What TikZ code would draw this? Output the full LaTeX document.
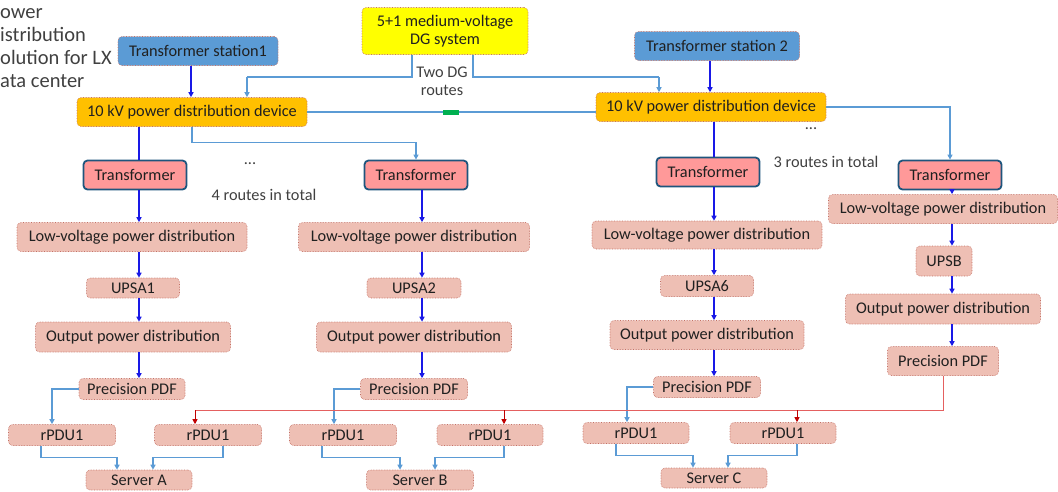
\documentclass[tikz,border=0pt]{standalone}
\usepackage{fontspec}
\setmainfont{Carlito}
\usetikzlibrary{arrows.meta}

\definecolor{stationblue}{RGB}{91,155,213}
\definecolor{hvorange}{RGB}{255,192,0}
\definecolor{dgyellow}{RGB}{255,255,0}
\definecolor{trafofill}{RGB}{255,153,153}
\definecolor{trafoedge}{RGB}{30,85,125}
\definecolor{pinkfill}{RGB}{238,191,180}
\definecolor{edgered}{RGB}{196,112,100}
\definecolor{darkblue}{RGB}{25,25,230}
\definecolor{lightblue}{RGB}{91,155,213}
\definecolor{busred}{RGB}{228,96,96}
\definecolor{arrowred}{RGB}{192,0,0}
\definecolor{tiegreen}{RGB}{0,176,80}
\definecolor{boxtext}{RGB}{32,32,32}
\definecolor{textgrey}{RGB}{64,64,64}

\begin{document}
\begin{tikzpicture}[x=1pt,y=1pt,
		every node/.style={font=\fontsize{16.3}{18}\selectfont, text=boxtext},
		box/.style={draw=edgered, densely dotted, line width=0.6pt, rounded corners=4pt, fill=pinkfill, inner sep=1pt, minimum height=21pt},
		station/.style={box, fill=stationblue, minimum width=160pt, minimum height=29pt},
		dgbox/.style={box, fill=dgyellow, minimum width=166pt, minimum height=47pt, align=center},
		hvbox/.style={box, fill=hvorange, minimum width=230pt, minimum height=29pt},
		trafo/.style={draw=trafoedge, solid, line width=1.8pt, rounded corners=4pt, fill=trafofill, inner sep=1pt, minimum width=103pt, minimum height=29pt},
		tie/.style={fill=tiegreen, inner sep=0pt, minimum width=16pt, minimum height=5pt},
		note/.style={text=textgrey, inner sep=1pt},
		darrow/.style={darkblue, line width=1.3pt, -{Triangle[length=5pt,width=5pt]}},
		dline/.style={darkblue, line width=1.3pt},
		barrow/.style={lightblue, line width=1.2pt, -{Triangle[length=5pt,width=5pt]}},
		bline/.style={lightblue, line width=1.2pt},
		rline/.style={busred, line width=1pt},
		rarrow/.style={arrowred, line width=1pt, -{Triangle[length=5pt,width=5pt]}}]
	\useasboundingbox (0,0) rectangle (1058,-491);

	\node[note, anchor=base west, inner sep=0pt, font=\fontsize{20.5}{23}\selectfont] (ttl1) at (0,-18) {ower};
	\node[note, anchor=base west, inner sep=0pt, font=\fontsize{20.5}{23}\selectfont] (ttl2) at (0,-41) {istribution};
	\node[note, anchor=base west, inner sep=0pt, font=\fontsize{20.5}{23}\selectfont] (ttl3) at (0,-64) {olution for LX};
	\node[note, anchor=base west, inner sep=0pt, font=\fontsize{20.5}{23}\selectfont] (ttl4) at (0,-87) {ata center};

	\node[station] (st1) at (198,-51) {Transformer station1};
	\node[dgbox] (dg) at (445,-31) {5+1 medium-voltage\\DG system};
	\node[station, minimum width=165pt] (st2) at (717,-46) {Transformer station 2};
	\node[hvbox] (hv1) at (192,-112) {10 kV power distribution device};
	\node[hvbox] (hv2) at (711,-107) {10 kV power distribution device};
	\node[tie] (tie) at (451,-112) {};
	\node[note, align=center] (dgnote) at (442,-81) {Two DG\\routes};

	\node[trafo] (tr1) at (135,-175) {Transformer};
	\node[trafo] (tr2) at (416,-175) {Transformer};
	\node[trafo] (tr3) at (708,-172) {Transformer};
	\node[trafo] (tr4) at (950,-175) {Transformer};
	\node[note] (dots1) at (250,-164) {...};
	\node[note] (routes1) at (264,-195) {4 routes in total};
	\node[note] (dots2) at (811,-129) {...};
	\node[note] (routes2) at (826,-162) {3 routes in total};

	\node[box, minimum width=230pt, minimum height=29pt] (lv1) at (132,-237) {Low-voltage power distribution};
	\node[box, minimum width=231pt, minimum height=29pt] (lv2) at (414,-237) {Low-voltage power distribution};
	\node[box, minimum width=230pt, minimum height=28pt] (lv3) at (707,-235) {Low-voltage power distribution};
	\node[box, minimum width=229pt, minimum height=29pt] (lv4) at (943,-209) {Low-voltage power distribution};

	\node[box, minimum width=93pt, minimum height=20pt] (ups1) at (133,-288) {UPSA1};
	\node[box, minimum width=94pt, minimum height=20pt] (ups2) at (414,-288) {UPSA2};
	\node[box, minimum width=93pt, minimum height=21pt] (ups6) at (707,-286) {UPSA6};
	\node[box, minimum width=56pt, minimum height=30pt] (upsb) at (944,-261) {UPSB};

	\node[box, minimum width=195pt, minimum height=30pt] (out1) at (133,-337) {Output power distribution};
	\node[box, minimum width=195pt, minimum height=30pt] (out2) at (414,-337) {Output power distribution};
	\node[box, minimum width=194pt, minimum height=29pt] (out3) at (707,-335) {Output power distribution};
	\node[box, minimum width=195pt, minimum height=30pt] (out4) at (943,-309) {Output power distribution};

	\node[box, minimum width=106pt] (pdf1) at (132,-389) {Precision PDF};
	\node[box, minimum width=107pt] (pdf2) at (414,-389) {Precision PDF};
	\node[box, minimum width=107pt] (pdf3) at (707,-387) {Precision PDF};
	\node[box, minimum width=111pt, minimum height=29pt] (pdf4) at (943,-361) {Precision PDF};

	\node[box, minimum width=107pt] (pa1) at (62,-435) {rPDU1};
	\node[box, minimum width=107pt] (pa2) at (208,-435) {rPDU1};
	\node[box, minimum width=107pt] (pb1) at (343,-435) {rPDU1};
	\node[box, minimum width=106pt] (pb2) at (490,-435) {rPDU1};
	\node[box, minimum width=106pt] (pc1) at (636,-433) {rPDU1};
	\node[box, minimum width=106pt] (pc2) at (783,-433) {rPDU1};

	\node[box, minimum width=106pt, minimum height=20pt] (sa) at (139,-480) {Server A};
	\node[box, minimum width=107pt, minimum height=20pt] (sb) at (420,-480) {Server B};
	\node[box, minimum width=106pt, minimum height=20pt] (sc) at (714,-478) {Server C};

	\coordinate (c1) at (139,0);
	\coordinate (c2) at (422,0);
	\coordinate (c3) at (714,0);
	\coordinate (c4) at (952,0);
	\coordinate (dgA) at (247,-77);
	\coordinate (dgB) at (659,-77);
	\coordinate (bus) at (0,-410);

	\draw[darrow] ([xshift=-7pt]st1.south) -- ([xshift=-7pt]st1.south |- hv1.north);
	\draw[darrow] ([xshift=-7pt]st2.south) -- ([xshift=-7pt]st2.south |- hv2.north);
	\draw[bline] ([xshift=-33pt]dg.south) |- (dgA);
	\draw[barrow] (dgA) -- (dgA |- hv1.north);
	\draw[bline] ([xshift=28pt]dg.south) |- (dgB);
	\draw[barrow] (dgB) -- (dgB |- hv2.north);
	\draw[bline] (hv1.east) -- (tie.west);
	\draw[bline] (tie.east) -- (tie.east -| hv2.west);

	\draw[dline] (c1 |- hv1.south) -- (c1 |- tr1.north);
	\draw[barrow] (hv1.south) -- ++(0,-16) -| (tr2.north);
	\draw[dline] (c3 |- hv2.south) -- (c3 |- tr3.north);
	\draw[barrow] (hv2.east) -| (tr4.north);

	\draw[darrow] (c1 |- tr1.south) -- (c1 |- lv1.north);
	\draw[darrow] (c1 |- lv1.south) -- (c1 |- ups1.north);
	\draw[darrow] (c1 |- ups1.south) -- (c1 |- out1.north);
	\draw[darrow] (c1 |- out1.south) -- (c1 |- pdf1.north);
	\draw[darrow] (c2 |- tr2.south) -- (c2 |- lv2.north);
	\draw[darrow] (c2 |- lv2.south) -- (c2 |- ups2.north);
	\draw[darrow] (c2 |- ups2.south) -- (c2 |- out2.north);
	\draw[darrow] (c2 |- out2.south) -- (c2 |- pdf2.north);
	\draw[darrow] (c3 |- tr3.south) -- (c3 |- lv3.north);
	\draw[darrow] (c3 |- lv3.south) -- (c3 |- ups6.north);
	\draw[darrow] (c3 |- ups6.south) -- (c3 |- out3.north);
	\draw[darrow] (c3 |- out3.south) -- (c3 |- pdf3.north);
	\draw[darrow] (c4 |- tr4.south) -- (c4 |- lv4.north);
	\draw[darrow] (c4 |- lv4.south) -- (c4 |- upsb.north);
	\draw[darrow] (c4 |- upsb.south) -- (c4 |- out4.north);
	\draw[darrow] (c4 |- out4.south) -- (c4 |- pdf4.north);

	\draw[barrow] (pdf1.west) -| ([xshift=-10pt]pa1.north);
	\draw[barrow] (pdf2.west) -| ([xshift=-9pt]pb1.north);
	\draw[barrow] (pdf3.west) -| ([xshift=-9pt]pc1.north);

	\draw[rline] (pdf4.south) |- ([xshift=-13pt]pa2.north |- bus);
	\draw[rarrow] ([xshift=-13pt]pa2.north |- bus) -- ([xshift=-13pt]pa2.north);
	\draw[rarrow] ([xshift=14pt]pb2.north |- bus) -- ([xshift=14pt]pb2.north);
	\draw[rarrow] ([xshift=14pt]pc2.north |- bus) -- ([xshift=14pt]pc2.north);

	\draw[barrow] ([xshift=-21pt]pa1.south) -- ++(0,-12) -| ([xshift=-22pt]sa.north);
	\draw[barrow] ([xshift=15pt]pa2.south) -- ++(0,-12) -| ([xshift=14pt]sa.north);
	\draw[barrow] ([xshift=-21pt]pb1.south) -- ++(0,-12) -| ([xshift=-20pt]sb.north);
	\draw[barrow] ([xshift=14pt]pb2.south) -- ++(0,-12) -| ([xshift=15pt]sb.north);
	\draw[barrow] ([xshift=-20pt]pc1.south) -- ++(0,-12) -| ([xshift=-21pt]sc.north);
	\draw[barrow] ([xshift=14pt]pc2.south) -- ++(0,-12) -| ([xshift=14pt]sc.north);
\end{tikzpicture}
\end{document}
